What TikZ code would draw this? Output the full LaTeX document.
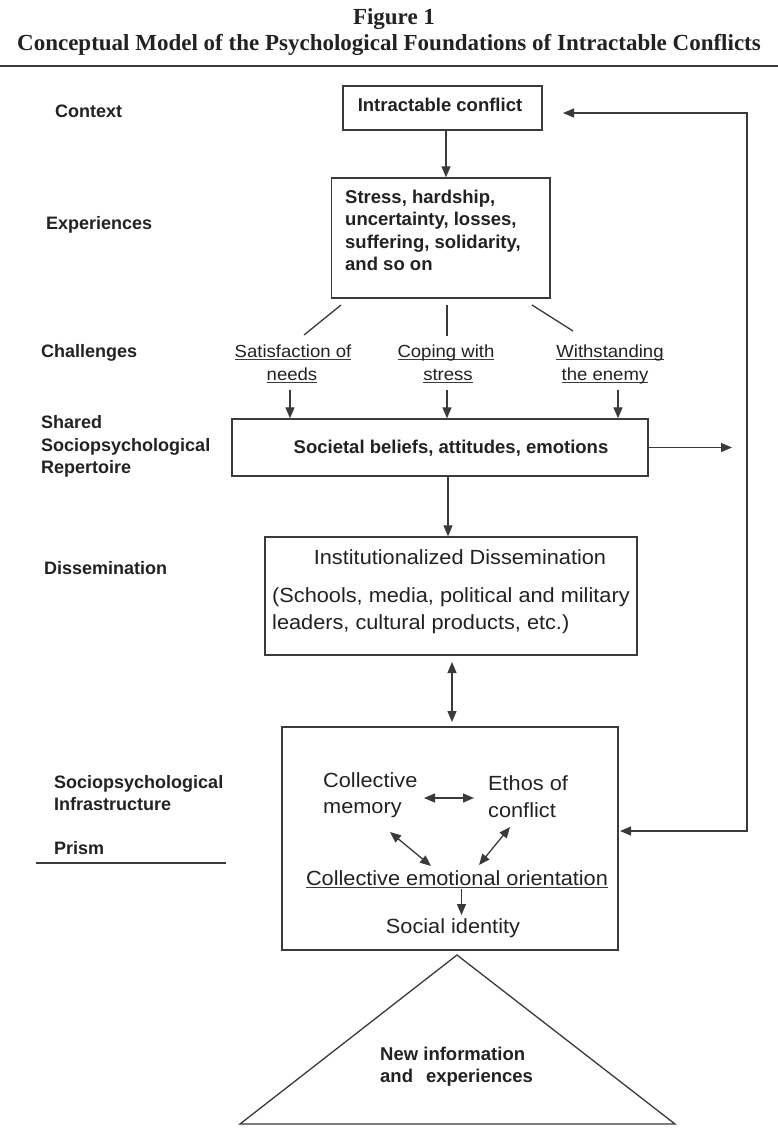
\documentclass[tikz,border=0pt]{standalone}
\usepackage{fontspec}
\setmainfont{Liberation Sans}
\newfontfamily\ttlfont{Liberation Serif}
\newfontfamily\widesans[FakeStretch=1.06]{Liberation Sans}
\usetikzlibrary{arrows.meta,calc}
\definecolor{ink}{HTML}{222222}
\definecolor{lineink}{HTML}{3A3A3A}
\newcommand\myul[1]{\setbox0\hbox{#1}\rlap{\color{lineink}\rule[-3.2pt]{\wd0}{1.1pt}}\box0}
\tikzset{
  box/.style={draw=lineink, line width=1.4pt, inner sep=0pt},
  ttl/.style={inner sep=0pt, anchor=base, text=ink, font=\ttlfont\bfseries\fontsize{23}{26}\selectfont},
  lbl/.style={inner sep=0pt, anchor=base west, text=ink, font=\bfseries\fontsize{18}{22}\selectfont},
  btxt/.style={inner sep=0pt, text=ink, font=\bfseries\fontsize{18.5}{22}\selectfont},
  ctxt/.style={inner sep=0pt, anchor=base, text=ink, font=\widesans\fontsize{17.5}{22}\selectfont},
  rtxt/.style={inner sep=0pt, text=ink, font=\widesans\fontsize{20.5}{26}\selectfont},
  tip/.tip={Triangle[length=11pt,width=9pt]},
  arr/.style={draw=lineink, line width=1.3pt, -tip},
  arrs/.style={draw=lineink, line width=1.3pt, tip-tip},
  ln/.style={draw=lineink, line width=1.3pt},
}
\begin{document}
\begin{tikzpicture}[x=1pt,y=-1pt]
\useasboundingbox (0,0) rectangle (778,1141);
\fill[white] (0,0) rectangle (778,1141);

% title
\node[ttl] (fig) at (394,24) {Figure 1};
\node[ttl] (title) at (389,50) {Conceptual Model of the Psychological Foundations of Intractable Conflicts};
\draw[lineink, line width=2.2pt] (0,66) -- (778,66);

% left labels
\node[lbl] (lcontext) at (55,117) {Context};
\node[lbl] (lexp) at (46,229) {Experiences};
\node[lbl] (lchal) at (41,357) {Challenges};
\node[lbl] (lsh1) at (41,428) {Shared};
\node[lbl] (lsh2) at (41,451) {Sociopsychological};
\node[lbl] (lsh3) at (41,473) {Repertoire};
\node[lbl] (ldis) at (44,574) {Dissemination};
\node[lbl] (linf1) at (54,788) {Sociopsychological};
\node[lbl] (linf2) at (54,810) {Infrastructure};
\node[lbl] (lprism) at (54,854) {Prism};
\coordinate (pl1) at (36,863);
\coordinate (pl2) at (226,863);
\draw[ln] (pl1) -- (pl2);

% boxes
\node[box, minimum width=199pt, minimum height=44pt] (ic) at (442.5,108) {};
\node[box, minimum width=218.5pt, minimum height=120pt] (exp) at (440.75,238) {};
\node[box, minimum width=416pt, minimum height=57pt] (soc) at (440,447.5) {};
\node[box, minimum width=372pt, minimum height=118pt] (dis) at (451,596) {};
\node[box, minimum width=336pt, minimum height=223pt] (inf) at (450,838.5) {};

% box texts
\node[btxt, anchor=base] (ict) at (440,111) {Intractable conflict};
\node[btxt, anchor=base west] (e1) at (345,203) {Stress, hardship,};
\node[btxt, anchor=base west] (e2) at (345,225.5) {uncertainty, losses,};
\node[btxt, anchor=base west] (e3) at (345,248) {suffering, solidarity,};
\node[btxt, anchor=base west] (e4) at (345,270.5) {and so on};
\node[btxt, anchor=base] (soct) at (451,453) {Societal beliefs, attitudes, emotions};
\node[rtxt, anchor=base] (d1) at (460,564) {Institutionalized Dissemination};
\node[rtxt, anchor=base west] (d2) at (272,602) {(Schools, media, political and military};
\node[rtxt, anchor=base west] (d3) at (272,629) {leaders, cultural products, etc.)};

% challenges
\node[ctxt] (c1a) at (293,357) {\myul{Satisfaction of}};
\node[ctxt] (c1b) at (292,380) {\myul{needs}};
\node[ctxt] (c2a) at (446,357) {\myul{Coping with}};
\node[ctxt] (c2b) at (448,380) {\myul{stress}};
\node[ctxt] (c3a) at (610,357) {\myul{Withstanding}};
\node[ctxt] (c3b) at (605,380) {\myul{the enemy}};

% lines from experiences to challenges
\coordinate (s1) at (341,305); \coordinate (t1) at (304,335);
\coordinate (s2) at (447,305); \coordinate (t2) at (447,336);
\coordinate (s3) at (532,305); \coordinate (t3) at (573,331);
\draw[ln] (s1) -- (t1);
\draw[ln] (s2) -- (t2);
\draw[ln] (s3) -- (t3);

% arrows challenges -> societal beliefs
\coordinate (a1) at (290,390);
\coordinate (a2) at (447,390);
\coordinate (a3) at (618,390);
\draw[arr] (a1) -- (a1 |- soc.north);
\draw[arr] (a2) -- (a2 |- soc.north);
\draw[arr] (a3) -- (a3 |- soc.north);

% main vertical arrows
\coordinate (x1) at (446,0);
\draw[arr] (x1 |- ic.south) -- (x1 |- exp.north);
\coordinate (x2) at (448,0);
\draw[arr] (x2 |- soc.south) -- (x2 |- dis.north);
\coordinate (dd1) at (452,662);
\coordinate (dd2) at (452,722);
\draw[arrs] (dd1) -- (dd2);

% output arrow and feedback loop
\coordinate (fbS) at (732,447.5);
\draw[arr] (soc.east) -- (fbS);
\coordinate (fbT) at (563,113);
\coordinate (fbTR) at (747,113);
\coordinate (fbBR) at (747,831);
\coordinate (fbB) at (620,831);
\draw[arrs] (fbT) -- (fbTR) -- (fbBR) -- (fbB);

% infrastructure content
\node[rtxt, anchor=base west] (cm1) at (323,787) {Collective};
\node[rtxt, anchor=base west] (cm2) at (323,813) {memory};
\node[rtxt, anchor=base west] (eo1) at (488,790) {Ethos of};
\node[rtxt, anchor=base west] (eo2) at (488,817) {conflict};
\node[rtxt, anchor=base] (ceo) at (457,885) {\myul{Collective emotional orientation}};
\node[rtxt, anchor=base] (si) at (453,933) {Social identity};
\coordinate (h1) at (424,798); \coordinate (h2) at (474,798);
\draw[arrs] (h1) -- (h2);
\coordinate (dl1) at (390,832); \coordinate (dl2) at (431,866);
\draw[arrs] (dl1) -- (dl2);
\coordinate (dr1) at (510,827); \coordinate (dr2) at (479,865);
\draw[arrs] (dr1) -- (dr2);
\coordinate (sa1) at (461.5,889); \coordinate (sa2) at (461.5,915);
\draw[arr] (sa1) -- (sa2);

% triangle
\coordinate (tA) at (457,955);
\coordinate (tR) at (675,1124);
\coordinate (tL) at (240,1124);
\draw[ln, line join=miter] (tA) -- (tR) -- (tL) -- cycle;
\node[btxt, anchor=base west] (n1) at (380,1060) {New information};
\node[btxt, anchor=base west] (n2) at (380,1082) {and\hspace{13pt}experiences};
\end{tikzpicture}
\end{document}
